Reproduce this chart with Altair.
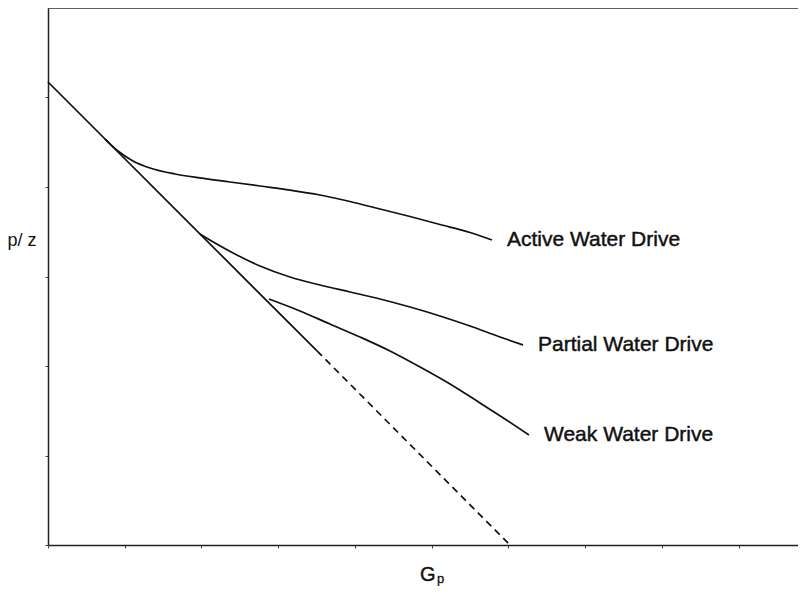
import altair as alt
import pandas as pd

# Main volumetric (depletion) line: solid part then dashed extrapolation
main_x = [0.0, 3.505]
main_y = [5.173, 2.168]
dash_x = [3.505, 6.02]
dash_y = [2.168, 0.0]

active_x = [0.743, 0.912, 1.107, 1.329, 1.655, 1.980, 2.371, 2.762, 3.153, 3.544, 3.935, 4.326, 4.717, 5.107, 5.498, 5.785]
active_y = [4.536, 4.402, 4.291, 4.212, 4.145, 4.101, 4.056, 4.011, 3.966, 3.911, 3.838, 3.754, 3.670, 3.581, 3.492, 3.408]

partial_x = [1.980, 2.176, 2.436, 2.762, 3.153, 3.544, 3.935, 4.326, 4.717, 5.107, 5.498, 5.889, 6.189]
partial_y = [3.475, 3.374, 3.251, 3.117, 2.994, 2.905, 2.827, 2.749, 2.659, 2.559, 2.447, 2.324, 2.235]

weak_x = [2.879, 3.283, 3.674, 4.065, 4.456, 4.847, 5.238, 5.629, 5.954, 6.267]
weak_y = [2.749, 2.615, 2.469, 2.324, 2.168, 1.989, 1.799, 1.587, 1.408, 1.229]

labels = ["Active Water Drive", "Partial Water Drive", "Weak Water Drive"]

x_ticks = list(range(0, 10))
y_ticks = list(range(0, 6))

W, H = 750, 537
xs = alt.Scale(domain=[0, 9.772], nice=False, zero=False)
ys = alt.Scale(domain=[0, 6], nice=False, zero=False)

def frame(xv, yv, name):
    return pd.DataFrame({"x": xv, "y": yv, "s": name, "o": list(range(len(xv)))})

curves = pd.concat([
    frame(active_x, active_y, "active"),
    frame(partial_x, partial_y, "partial"),
    frame(weak_x, weak_y, "weak"),
])
main_df = frame(main_x, main_y, "main")
dash_df = frame(dash_x, dash_y, "dash")
lab_df = pd.DataFrame({
    "x": [active_x[-1], partial_x[-1], weak_x[-1]],
    "y": [active_y[-1], partial_y[-1], weak_y[-1]],
    "t": labels,
})

FONT = "Liberation Sans"
xenc = alt.X("x:Q", scale=xs, axis=alt.Axis(
    values=x_ticks, labels=False, grid=False, ticks=True, tickSize=3,
    tickColor="#444", domainColor="#222", domainWidth=1.5, title=None))
yenc = alt.Y("y:Q", scale=ys, axis=alt.Axis(
    values=y_ticks, labels=False, grid=False, ticks=True, tickSize=3,
    tickColor="#444", domainColor="#222", domainWidth=1.5,
    title="p/ z", titleFontSize=18, titleFontWeight="normal", titleColor="#111",
    titleFont=FONT, titleAngle=0, titleAlign="left",
    titleX=-41, titleY=232, titleBaseline="middle"))

base_main = alt.Chart(main_df).mark_line(color="#111", strokeWidth=1.7).encode(
    x=xenc, y=yenc, order="o:Q")
base_dash = alt.Chart(dash_df).mark_line(color="#111", strokeWidth=1.7, strokeDash=[7, 5]).encode(
    x="x:Q", y="y:Q", order="o:Q")
curve_layer = alt.Chart(curves).mark_line(color="#111", strokeWidth=1.7, interpolate="monotone").encode(
    x="x:Q", y="y:Q", detail="s:N", order="o:Q")
text_layer = alt.Chart(lab_df).mark_text(
    align="left", baseline="middle", dx=15, fontSize=21, font=FONT, color="#111",
    stroke="#111", strokeWidth=0.45
).encode(x="x:Q", y="y:Q", text="t:N")
g_txt = alt.Chart(pd.DataFrame({"t": ["G"]})).mark_text(
    align="left", baseline="alphabetic", fontSize=20, font=FONT, color="#111",
    stroke="#111", strokeWidth=0.45
).encode(x=alt.value(372), y=alt.value(573), text="t:N")
sub_p = alt.Chart(pd.DataFrame({"t": ["p"]})).mark_text(
    align="left", baseline="alphabetic", fontSize=13, font=FONT, color="#111",
    stroke="#111", strokeWidth=0.3
).encode(x=alt.value(389), y=alt.value(575), text="t:N")
top_rule = alt.Chart(pd.DataFrame({"a": [0]})).mark_rule(color="#333", strokeWidth=1.5).encode(
    x=alt.value(0), x2=alt.value(W), y=alt.value(0))

chart = alt.layer(base_main, base_dash, curve_layer, text_layer, g_txt, sub_p, top_rule).properties(
    width=W, height=H,
    autosize=alt.AutoSizeParams(type="none"),
    padding={"left": 40, "top": 0, "right": 0, "bottom": 41},
).configure_view(stroke=None).configure(background="white")

chart.save("out.html", embed_options={"renderer": "svg", "actions": False})
